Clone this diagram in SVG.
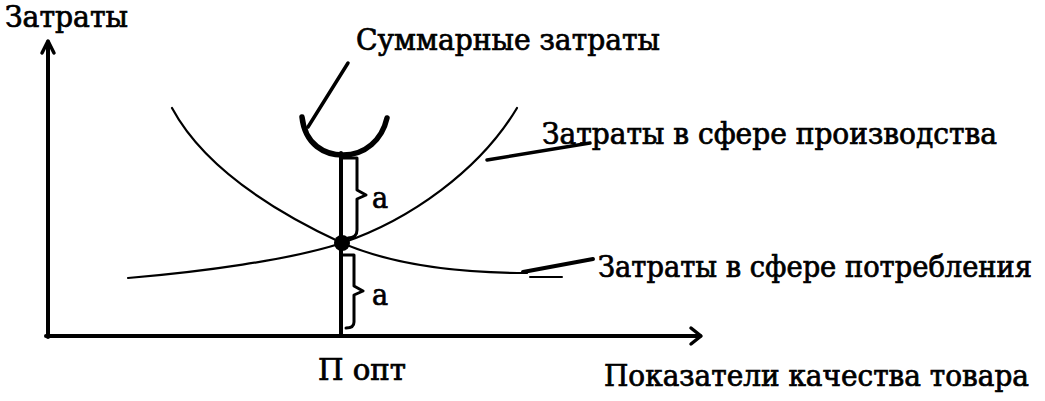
<svg xmlns="http://www.w3.org/2000/svg" width="1045" height="401" viewBox="0 0 1045 401">
<style>
.t{font-family:'DejaVu Serif Condensed','DejaVu Serif',serif;font-stretch:condensed;font-size:30px;fill:#000;stroke:#000;stroke-width:0.7}
.ln{fill:none;stroke:#000;stroke-linecap:round;stroke-linejoin:round}
</style>
<rect width="1045" height="401" fill="#fff"/>
<g id="axes">
<path class="ln" d="M48,337 V42" stroke-width="4"/>
<path class="ln" d="M42,53 L48,41 L54,53" stroke-width="3.5"/>
<path class="ln" d="M46,336 H700" stroke-width="4"/>
<path class="ln" d="M691,328 L701,336 L691,344" stroke-width="3.5"/>
<text class="t" x="5" y="27" textLength="123" lengthAdjust="spacingAndGlyphs">Затраты</text>
<text class="t" x="604" y="386" textLength="425" lengthAdjust="spacingAndGlyphs">Показатели качества товара</text>
</g>
<g id="consumption">
<path class="ln" d="M172,108 C200,160 260,205 342,243 C400,268 470,273 527,273" stroke-width="2.2"/>
</g>
<g id="production">
<path class="ln" d="M128,278 C200,272 290,260 342,243 C410,220 480,170 517,108" stroke-width="2.2"/>
</g>
<g id="total">
<path class="ln" d="M302,117 C305,145 325,155 343,155 C365,155 382,140 387,118" stroke-width="5.5"/>
</g>
<g id="optimum">
<path class="ln" d="M341,153 V336" stroke-width="4"/>
<circle cx="342" cy="243" r="8" fill="#000"/>
<path class="ln" d="M343,158 H357 V190 L366,195 L357,199 V230 Q357,238 348,238" stroke-width="3"/>
<path class="ln" d="M343,255 H354 V286 L363,291 L354,295 V322 Q354,328 346,328" stroke-width="3"/>
<text class="t" x="372" y="208">а</text>
<text class="t" x="372" y="305">а</text>
<text class="t" x="318" y="380" textLength="88" lengthAdjust="spacingAndGlyphs">П опт</text>
</g>
<g id="connectors">
<path class="ln" d="M348,63 L308,127" stroke-width="3.5"/>
<path class="ln" d="M487,160 L590,143" stroke-width="3.5"/>
<path class="ln" d="M523,272 L593,259" stroke-width="4"/>
<path class="ln" d="M530,277 H562" stroke-width="2"/>
</g>
<g id="labels">
<text class="t" x="356" y="50" textLength="304" lengthAdjust="spacingAndGlyphs">Суммарные затраты</text>
<text class="t" x="542" y="144" textLength="455" lengthAdjust="spacingAndGlyphs">Затраты в сфере производства</text>
<text class="t" x="598" y="277" textLength="434" lengthAdjust="spacingAndGlyphs">Затраты в сфере потребления</text>
</g>
</svg>
